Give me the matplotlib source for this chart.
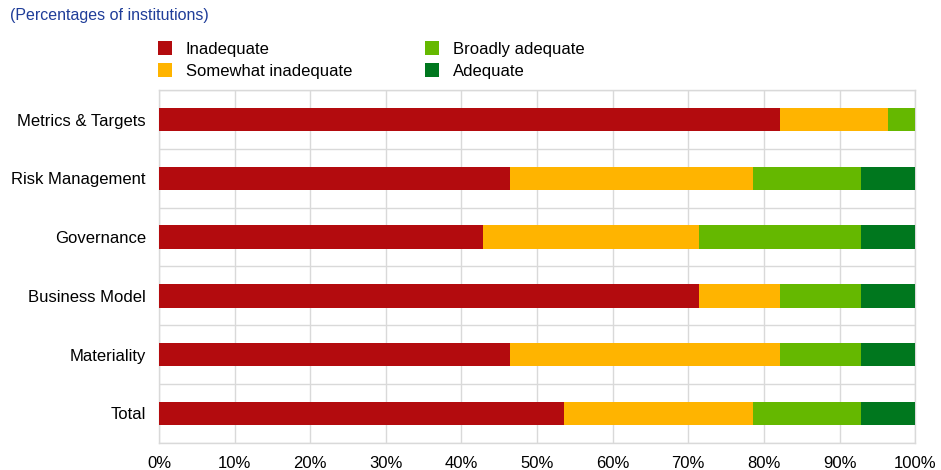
import matplotlib.pyplot as plt
import numpy as np
from matplotlib.patches import Patch

plt.rcParams["font.family"] = ["Liberation Sans", "DejaVu Sans"]

# shares of institutions per assessment (28 institutions in total)
categories = ["Metrics & Targets", "Risk Management", "Governance",
              "Business Model", "Materiality", "Total"]
inadequate = [82.14, 46.43, 42.86, 71.43, 46.43, 53.57]
somewhat_inadequate = [14.29, 32.14, 28.57, 10.71, 35.71, 25.00]
broadly_adequate = [3.57, 14.29, 21.43, 10.71, 10.71, 14.29]
adequate = [0.0, 7.14, 7.14, 7.14, 7.14, 7.14]

series_names = ["Inadequate", "Somewhat inadequate", "Broadly adequate", "Adequate"]
colors = ["#B30B0E", "#FFB400", "#65B800", "#00771E"]

fig = plt.figure(figsize=(9.41, 4.70), dpi=100)
ax = fig.add_axes([0.169, 0.058, 0.8035, 0.750])

y = np.arange(len(categories))
left = np.zeros(len(categories))
for vals, col in zip([inadequate, somewhat_inadequate, broadly_adequate, adequate], colors):
    ax.barh(y, vals, left=left, height=0.4, color=col, zorder=3)
    left += np.array(vals)

ax.set_xlim(0, 100)
ax.set_ylim(len(categories) - 0.5, -0.5)
ax.set_yticks(y)
ax.set_yticklabels(categories, fontsize=12)
ax.set_xticks(np.arange(0, 101, 10))
ax.set_xticklabels([f"{v}%" for v in range(0, 101, 10)], fontsize=12)
ax.tick_params(axis="y", length=0, pad=9.5)
ax.tick_params(axis="x", length=0, pad=9.5)

# vertical grid at every 10 %, horizontal lines between the categories
ax.set_yticks(np.arange(-0.5, len(categories), 1), minor=True)
ax.grid(axis="x", color="#d9d9d9", linewidth=1, zorder=0)
ax.grid(axis="y", which="minor", color="#d9d9d9", linewidth=1, zorder=0)
ax.tick_params(which="minor", length=0)
for s in ax.spines.values():
    s.set_color("#d9d9d9")
    s.set_linewidth(1)

fig.text(0.011, 0.966, "(Percentages of institutions)", color="#1F3D99",
         fontsize=11.5, va="center", ha="left")

handles = [Patch(facecolor=c, edgecolor="none") for c in colors]
fig.legend(handles, series_names, loc="upper left", bbox_to_anchor=(0.168, 0.912),
           ncol=2, frameon=False, fontsize=12, handlelength=0.85, handleheight=0.85,
           handletextpad=0.8, columnspacing=4.4, labelspacing=0.4,
           borderaxespad=0, borderpad=0)

fig.savefig("out.png", dpi=100)
